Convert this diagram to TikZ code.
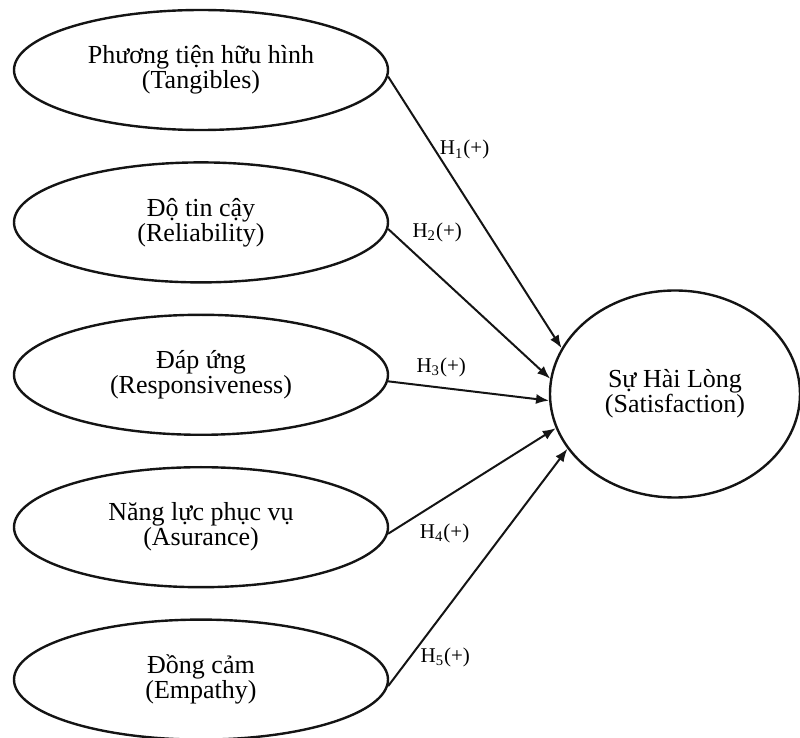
\documentclass[tikz,border=0pt]{standalone}
\usepackage{fontspec}
\setmainfont{Liberation Serif}
\usepackage{tikz}
\usetikzlibrary{
  arrows.meta,
  positioning,
  shapes.geometric
}
\newcommand{\hyp}[1]{H\textsubscript{#1}(+)}
\definecolor{inkblack}{RGB}{20,20,20}
\tikzset{
  factorbox/.style={
    ellipse,
    draw=inkblack,
    line width=1.2pt,
    minimum width=187pt,
    minimum height=60pt,
    inner sep=0pt,
    align=center,
    font=\fontsize{13}{12.5}\selectfont
  },
  outcomebox/.style={factorbox,minimum width=125pt,minimum height=103.5pt},
  hyparrow/.style={-{Latex[length=6.5pt,width=5pt]},line width=1pt,draw=inkblack},
  hyplabel/.style={font=\fontsize{10.5}{12}\selectfont,inner sep=2pt},
}

\begin{document}
\begin{tikzpicture}[x=0.5pt,y=0.5pt,node distance=15pt]
  \useasboundingbox (0,0) rectangle (800,-738);

  \node[factorbox] (tangible) at (201,-70) {Phương tiện hữu hình\\(Tangibles)};
  \node[factorbox,below=of tangible] (reliab) {Độ tin cậy\\(Reliability)};
  \node[factorbox,below=of reliab] (respons) {Đáp ứng\\(Responsiveness)};
  \node[factorbox,below=of respons] (assur) {Năng lực phục vụ\\(Asurance)};
  \node[factorbox,below=of assur] (empathy) {Đồng cảm\\(Empathy)};
  \node[outcomebox] (satisf) at (675,-394) {Sự Hài Lòng\\(Satisfaction)};

  \draw[hyparrow] (tangible.-2) -- node[hyplabel,pos=0.27,anchor=west] {\hyp{1}} (satisf.158);
  \draw[hyparrow] (reliab.-2) -- node[hyplabel,pos=0.12,anchor=south west] {\hyp{2}} (satisf.173);
  \draw[hyparrow] (respons.-2) -- node[hyplabel,pos=0.33,above=3pt] {\hyp{3}} (satisf.183);
  \draw[hyparrow] (assur.-2) -- node[hyplabel,pos=0.16,anchor=north west,yshift=-1pt] {\hyp{4}} (satisf.196);
  \draw[hyparrow] (empathy.-2) -- node[hyplabel,pos=0.12,anchor=west,xshift=3pt] {\hyp{5}} (satisf.207);
\end{tikzpicture}
\end{document}
